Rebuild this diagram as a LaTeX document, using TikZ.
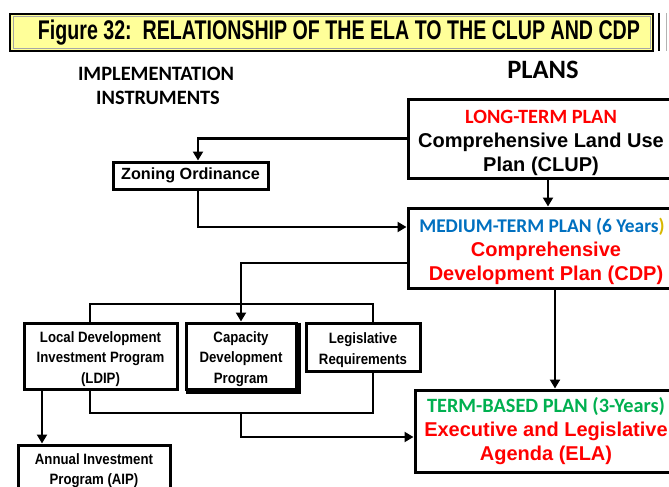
\documentclass[tikz,border=0pt]{standalone}
\usepackage{fontspec}
\usepackage{graphicx}
\setmainfont{Liberation Sans}
\newfontfamily\calib{Carlito}
\newfontfamily\narrowsans{Liberation Sans}[FakeStretch=0.88]
\usetikzlibrary{arrows.meta}
\definecolor{titleyellow}{HTML}{FFFF99}
\definecolor{planred}{HTML}{FF0000}
\definecolor{planblue}{HTML}{0070C0}
\definecolor{plangreen}{HTML}{00B050}
\definecolor{parengold}{HTML}{D8B800}
% invisible strut that lowers a text block inside its box
\newcommand\lowerby[1]{\rule{0pt}{#1}}
\begin{document}
\begin{tikzpicture}[x=1pt,y=-1pt,
  box/.style={draw, line width=3pt, fill=white, inner sep=0pt, align=center},
  bigbox/.style={box, font=\fontsize{20}{24}\selectfont\bfseries},
  smallbox/.style={box, font=\narrowsans\fontsize{15}{20.5}\selectfont\bfseries},
  heading/.style={font=\calib\fontsize{20.4}{24.5}\selectfont\bfseries, align=center},
  conn/.style={line width=2.5pt, -{Triangle[length=9pt,width=10pt]}},
  link/.style={line width=2.5pt}]
\useasboundingbox (0,0) rectangle (669,487);

% title banner
\node[draw, line width=2.5pt, fill=titleyellow, minimum width=643, minimum height=37, inner sep=0pt] (title) at (331.5,32.5)
  {\hspace*{15pt}\resizebox{602pt}{\height}{\fontsize{27}{27}\selectfont\bfseries Figure 32:\ \ RELATIONSHIP OF THE ELA TO THE CLUP AND CDP}};
\draw[gray!70, line width=0.8pt] (13,16.5) rectangle (650.5,48.5);
\draw[line width=2.5pt] (659,13) -- (659,51);
\draw[gray!60, line width=1pt] (666,13) -- (666,51);

% column headings
\node[heading] (impl) at (156,86) {IMPLEMENTATION\\\hspace*{4pt}INSTRUMENTS};
\node[font=\calib\fontsize{26.5}{30}\selectfont\bfseries] (plans) at (543,70) {PLANS};

% plans column
\node[bigbox, minimum width=266, minimum height=79] (clup) at (541,138.5)
  {\lowerby{23pt}{\calib\fontsize{20.3}{24}\selectfont\color{planred}LONG-TERM PLAN}\\Comprehensive Land Use\\Plan (CLUP)};
\node[bigbox, minimum width=276, minimum height=80] (mtp) at (546,248)
  {\lowerby{21pt}\hspace*{-8pt}{\calib\fontsize{19.4}{24}\selectfont\color{planblue}MEDIUM-TERM PLAN (6 Years\textcolor{parengold}{)}}\\
   \color{planred}Comprehensive\\\color{planred}Development Plan (CDP)};
\node[bigbox, minimum width=262, minimum height=82] (ela) at (546,431)
  {{\calib\fontsize{20.3}{24}\selectfont\color{plangreen}TERM-BASED PLAN (3-Years)}\\
   \color{planred}Executive and Legislative\\\color{planred}Agenda (ELA)};

% implementation instruments
\node[box, font=\fontsize{16.2}{20}\selectfont\bfseries, minimum width=155, minimum height=27] (zoning) at (190.5,175.5) {Zoning Ordinance};
\node[smallbox, minimum width=153, minimum height=66] (ldip) at (100.5,356) {\lowerby{17pt}Local Development\\Investment Program\\(LDIP)};
\node[smallbox, minimum width=110, minimum height=66] (cap) at (241,356) {\lowerby{17pt}Capacity\\Development\\Program};
\node[smallbox, minimum width=114, minimum height=48] (leg) at (363,347) {\lowerby{17pt}Legislative\\Requirements};
\node[smallbox, minimum width=152, minimum height=50] (aip) at (94,470) {\lowerby{12pt}Annual Investment\\Program (AIP)};
% heavier lower-right edge of the capacity box
\draw[line width=3pt] ([shift={(1.5pt,-1pt)}]cap.north east) -- ([shift={(1.5pt,-1.5pt)}]cap.south east) -- ([shift={(1pt,-1.5pt)}]cap.south west);

% routing levels
\coordinate (zlevel) at (0,227);
\coordinate (toplevel) at (0,304);
\coordinate (botlevel) at (0,413);
\coordinate (ldipx) at (90,0);
\coordinate (legx) at (373,0);

% connectors
\draw[conn] (clup.west) -| ([xshift=7.5pt]zoning.north);
\draw[conn] ([xshift=7.5pt]zoning.south) |- (mtp.west |- zlevel);
\draw[conn] ([xshift=7pt]clup.south) -- ([xshift=7pt]clup.south |- mtp.north);
\draw[conn] ([yshift=-15pt]mtp.west) -| (cap.north);
\draw[link] (ldipx |- ldip.north) -- (ldipx |- toplevel) -- (legx |- toplevel) -- (legx |- leg.north);
\draw[link] (ldipx |- ldip.south) -- (ldipx |- botlevel) -- (legx |- botlevel) -- (legx |- leg.south);
\draw[conn] (cap.south |- botlevel) |- ([yshift=-6pt]ela.west);
\draw[conn] ([xshift=-58.5pt]ldip.south) -- ([xshift=-58.5pt]ldip.south |- aip.north);
\draw[conn] ([xshift=9pt]mtp.south) -- ([xshift=9pt]mtp.south |- ela.north);
\end{tikzpicture}
\end{document}
